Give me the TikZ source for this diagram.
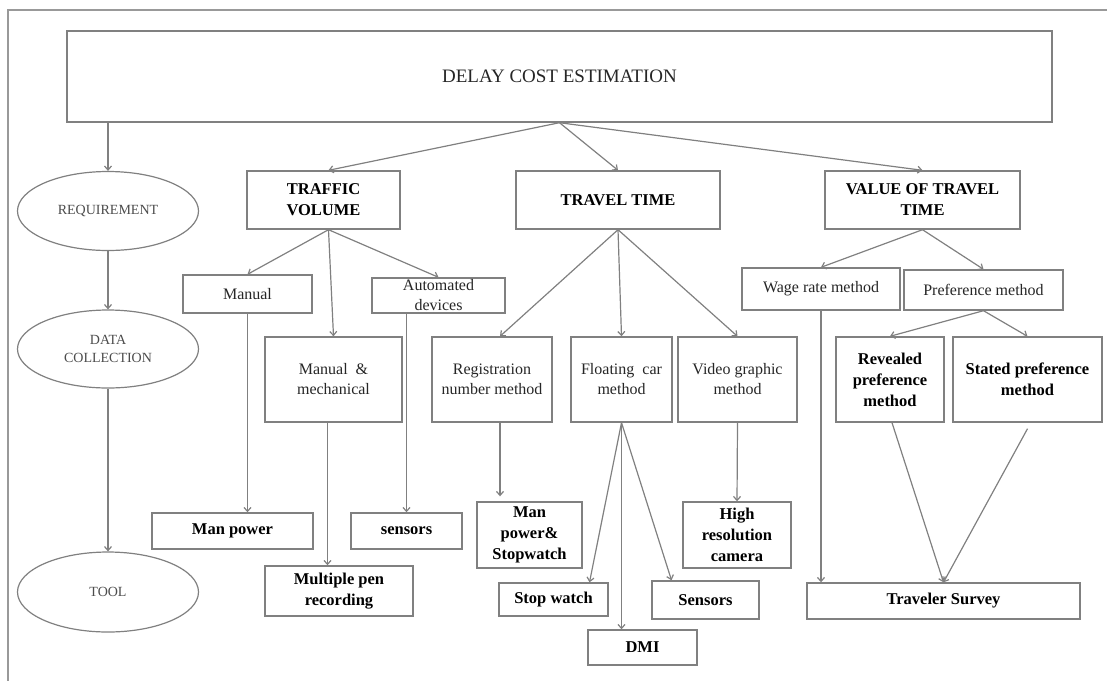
\documentclass[tikz,border=0pt]{standalone}
\usepackage{fontspec}
\setmainfont{Liberation Serif}
\usetikzlibrary{arrows.meta,calc,shapes.geometric}
\definecolor{lg}{HTML}{808080}
\definecolor{fr}{HTML}{999999}
\begin{document}
\begin{tikzpicture}[x=1pt,y=-1pt,
  box/.style={draw=lg, line width=1.4pt, fill=white, inner sep=0pt, align=center,
    font=\fontsize{16}{20}\selectfont, text=black!85},
  bbox/.style={box, font=\fontsize{16.5}{21}\selectfont\bfseries, text=black},
  ell/.style={ellipse, draw=lg, line width=1.2pt, fill=white, inner sep=0pt,
    minimum width=181pt, align=center, font=\fontsize{14}{18}\selectfont, text=black!70},
  conn/.style={draw=lg, line width=1.2pt, -{Straight Barb[length=4pt,width=7pt]}}]
\useasboundingbox (0,0) rectangle (1107,681);
\coordinate (frtr) at (1107,10);
\coordinate (frtl) at (8,10);
\coordinate (frbl) at (8,681);
\draw[fr, line width=1.5pt] (frtr) -- (frtl) -- (frbl);

% top
\node[box, minimum width=985pt, minimum height=91pt, font=\fontsize{19}{22}\selectfont] (main) at (559.5,76.5) {DELAY COST ESTIMATION};

% left column
\node[ell, minimum height=79pt] (req) at (108,211) {REQUIREMENT};
\node[ell, minimum height=78pt] (data) at (108,349) {DATA\\COLLECTION};
\node[ell, minimum height=80pt] (tool) at (108,592) {TOOL};

% level 1
\node[bbox, minimum width=153pt, minimum height=58pt] (tv) at (323.5,200) {TRAFFIC\\VOLUME};
\node[bbox, minimum width=204pt, minimum height=58pt] (tt) at (618,200) {TRAVEL TIME};
\node[bbox, minimum width=195pt, minimum height=58pt] (vott) at (922.5,200) {VALUE OF TRAVEL\\TIME};

% level 2
\node[box, minimum width=129pt, minimum height=38pt] (manual) at (247.5,294) {Manual};
\node[box, minimum width=137pt, minimum height=85pt] (mm) at (333.5,379.5) {Manual \ \&\\mechanical};
\node[box, minimum width=133pt, minimum height=35pt, inner ysep=-5pt] (auto) at (438.5,295.5) {Automated\\devices};
\node[box, minimum width=120pt, minimum height=85pt] (reg) at (492,379.5) {Registration\\number method};
\node[box, minimum width=101pt, minimum height=85pt] (fc) at (621.5,379.5) {Floating \ car\\method};
\node[box, minimum width=119pt, minimum height=85pt] (vid) at (737.5,379.5) {Video graphic\\method};
\node[box, minimum width=158pt, minimum height=42pt] (wage) at (821,289) {Wage rate method};
\node[box, minimum width=159pt, minimum height=40pt] (pref) at (983.5,290) {Preference method};
\node[bbox, minimum width=108pt, minimum height=85pt] (rev) at (890,379.5) {Revealed\\preference\\method};
\node[bbox, minimum width=149pt, minimum height=85pt] (stated) at (1027.5,379.5) {Stated preference\\method};

% tools
\node[bbox, minimum width=161pt, minimum height=36pt] (manpower) at (232.5,531) {Man power};
\node[bbox, minimum width=111pt, minimum height=36pt] (sensors) at (406.5,531) {sensors};
\node[bbox, minimum width=148pt, minimum height=50pt] (mpr) at (339,591) {Multiple pen\\recording};
\node[bbox, minimum width=105pt, minimum height=66pt] (mps) at (529.5,535) {Man\\power\&\\Stopwatch};
\node[bbox, minimum width=109pt, minimum height=33pt] (sw) at (553.5,599.5) {Stop watch};
\node[bbox, minimum width=109pt, minimum height=35pt] (dmi) at (642.5,647.5) {DMI};
\node[bbox, minimum width=107pt, minimum height=38pt] (sens2) at (705.5,600) {Sensors};
\node[bbox, minimum width=108pt, minimum height=66pt] (hrc) at (737,535) {High\\resolution\\camera};
\node[bbox, minimum width=273pt, minimum height=36pt] (ts) at (943.5,601) {Traveler Survey};

% connectors
\draw[conn] (req |- main.south) -- (req.north);
\draw[conn] (req.south) -- (data.north);
\draw[conn] (data.south) -- (tool.north);

\draw[conn] (main.south) -- ([xshift=5pt]tv.north);
\draw[conn] (main.south) -- (tt.north);
\draw[conn] (main.south) -- (vott.north);

\draw[conn] ([xshift=5pt]tv.south) -- (manual.north);
\draw[conn] ([xshift=5pt]tv.south) -- (mm.north);
\draw[conn] ([xshift=5pt]tv.south) -- (auto.north);

\draw[conn] (tt.south) -- ([xshift=8pt]reg.north);
\draw[conn] (tt.south) -- (fc.north);
\draw[conn] (tt.south) -- (vid.north);

\draw[conn] (vott.south) -- (wage.north);
\draw[conn] (vott.south) -- (pref.north);
\draw[conn] (pref.south) -- (rev.north);
\draw[conn] (pref.south) -- (stated.north);

\draw[conn] (manual.south) -- (manual.south |- manpower.north);
\draw[conn] (sensors.north |- auto.south) -- (sensors.north);
\draw[conn] ([xshift=-6pt]mm.south) -- ([xshift=-6pt]mm.south |- mpr.north);
\coordinate (mpsend) at ([yshift=5pt]mps.north);
\draw[conn] ([xshift=8pt]reg.south) -- ([xshift=8pt]reg.south |- mpsend);

\draw[conn] (fc.south) -- ([xshift=36pt]sw.north);
\draw[conn] (fc.south) -- (fc.south |- dmi.north);
\draw[conn] (fc.south) -- ([xshift=-34pt]sens2.north);

\draw[conn] (vid.south) -- (hrc.north);

\draw[conn] (wage.south) -- (wage.south |- ts.north);
\draw[conn] ([xshift=2pt]rev.south) -- (ts.north);
\draw[conn] ([yshift=-6pt]stated.south) -- (ts.north);
\end{tikzpicture}
\end{document}
